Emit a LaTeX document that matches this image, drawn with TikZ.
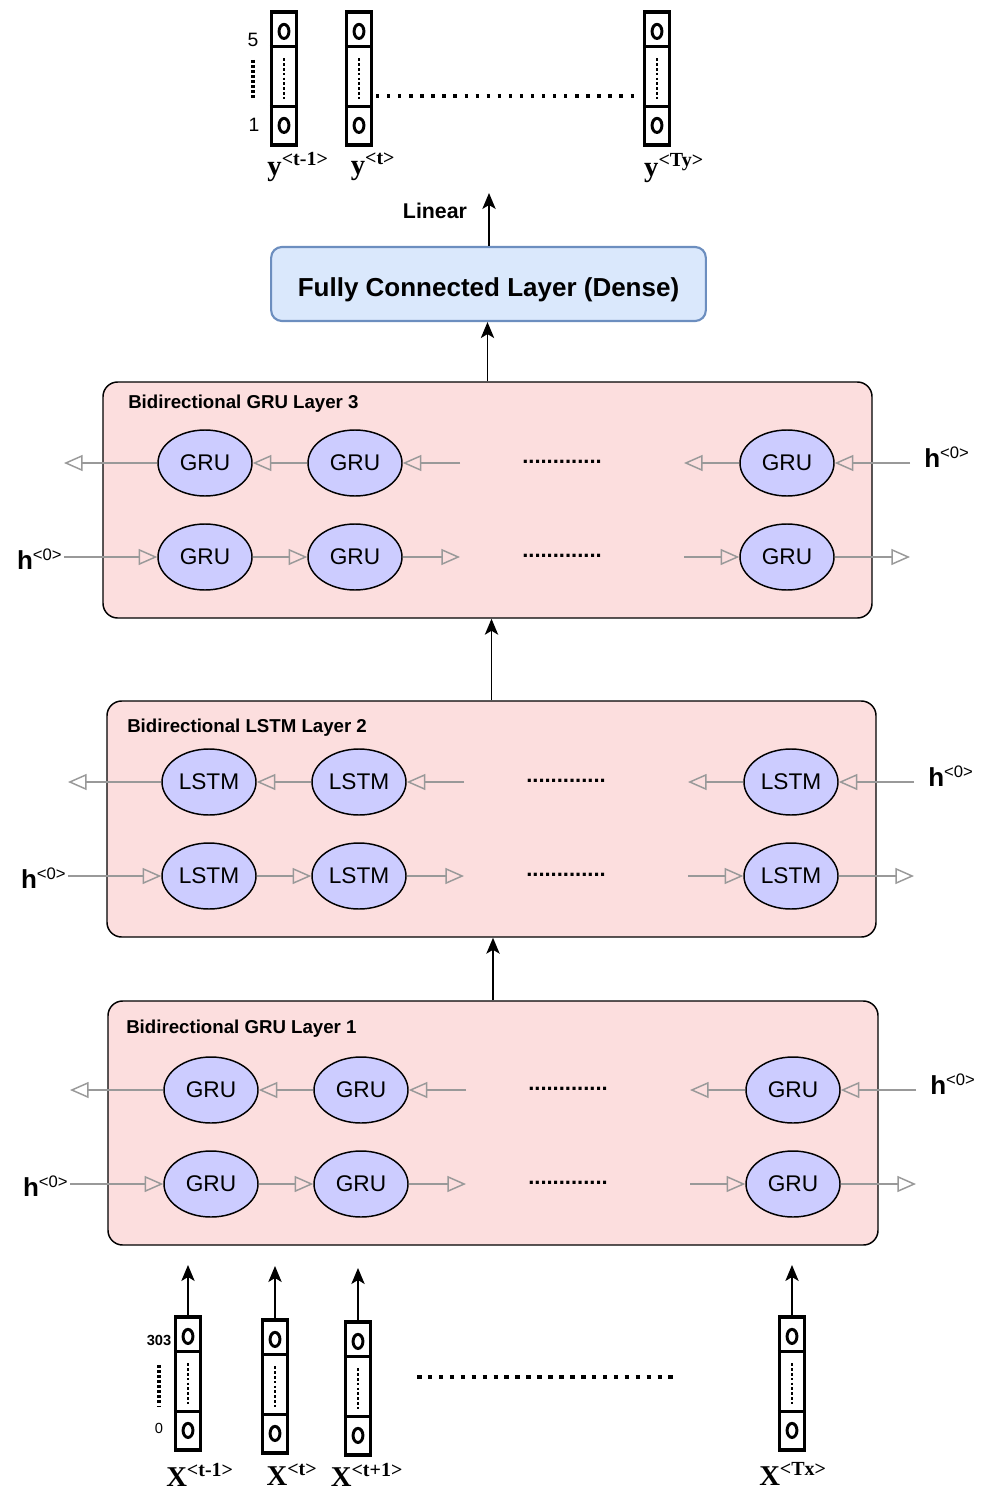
\documentclass[tikz,border=0pt]{standalone}
\usepackage{fontspec}
\setmainfont{Liberation Sans}
\newfontfamily\serifbold{Liberation Serif}[BoldFont={* Bold}]
\usetikzlibrary{shapes.geometric,arrows.meta,calc,fit}

\definecolor{layerfill}{HTML}{FCDEDE}
\definecolor{cellfill}{HTML}{CCCCFF}
\definecolor{fcfill}{HTML}{DAE8FC}
\definecolor{fcline}{HTML}{6C8EBF}
\definecolor{flow}{HTML}{999999}

\tikzset{
  cell/.style={ellipse, draw=black, line width=1.1pt, fill=cellfill,
    minimum width=70.5pt, minimum height=49.5pt, inner sep=0pt,
    font=\fontsize{17}{17}\selectfont},
  layerbox/.style={draw=black, line width=1.1pt, fill=layerfill,
    rounded corners=11pt, inner sep=0pt},
  layertitle/.style={anchor=west, inner sep=0pt, font=\bfseries\fontsize{14}{14}\selectfont},
  flowline/.style={draw=flow, line width=1.1pt, -{Triangle[open, length=14pt, width=12pt]}},
  mainarrow/.style={draw=black, line width=1.1pt, -{Stealth[length=12pt, width=10pt, inset=3pt]}},
  vbox/.style={draw=black, line width=2.4pt, minimum width=18.75pt,
    minimum height=99.75pt, inner sep=0pt},
  sepline/.style={line width=2.4pt},
  ring/.style={line width=2.2pt},
  vdots/.style={line width=2pt, dash pattern=on 1.9pt off 1.7pt},
  sidedots/.style={line width=2.8pt, dash pattern=on 1.9pt off 1.9pt},
  rowdots/.style={inner sep=0pt, font=\bfseries\fontsize{16.5}{16.5}\selectfont},
  hlabel/.style={inner sep=0pt},
  veclabel/.style={inner sep=0pt, font=\serifbold\bfseries\fontsize{21.5}{21.5}\selectfont},
}

% one-hot style vector column: name, centre x, top y
\newcommand\vecbox[3]{%
  \node[vbox] (#1) at (#2,#3+66.5) {};
  \draw[sepline] ($(#1.north west)+(0,36)$) -- ($(#1.north east)+(0,36)$);
  \draw[sepline] ($(#1.north west)+(0,96)$) -- ($(#1.north east)+(0,96)$);
  \draw[ring] ($(#1.north)+(0,21)$) ellipse [x radius=3.7pt, y radius=5.3pt];
  \draw[ring] ($(#1.north)+(0,115)$) ellipse [x radius=3.7pt, y radius=5.3pt];
  \draw[vdots] ($(#1.north)+(0,48)$) -- ($(#1.north)+(0,91)$);
}

\newcommand\hzero{{\bfseries\fontsize{19.5}{19.5}\selectfont h}\raisebox{6.5pt}{\fontsize{12.5}{12.5}\selectfont <0>}}
\newcommand\supsize{\fontsize{15}{15}\selectfont}

% bidirectional recurrent layer: prefix, first cell x, upper row y, lower row y, cell text
\newcommand\bilayer[5]{%
  \node[cell] (#1a1) at (#2,#3) {#5};
  \node[cell] (#1a2) at (#2+150,#3) {#5};
  \node[cell] (#1a3) at (#2+582,#3) {#5};
  \node[cell] (#1b1) at (#2,#4) {#5};
  \node[cell] (#1b2) at (#2+150,#4) {#5};
  \node[cell] (#1b3) at (#2+582,#4) {#5};
  \coordinate (#1aL) at (#2-141,#3);
  \coordinate (#1aM) at (#2+255,#3);
  \coordinate (#1aN) at (#2+479,#3);
  \coordinate (#1aR) at (#2+705,#3);
  \coordinate (#1bL) at (#2-141,#4);
  \coordinate (#1bM) at (#2+255,#4);
  \coordinate (#1bN) at (#2+479,#4);
  \coordinate (#1bR) at (#2+705,#4);
  \draw[flowline] (#1a1) -- (#1aL);
  \draw[flowline] (#1a2) -- (#1a1);
  \draw[flowline] (#1aM) -- (#1a2);
  \draw[flowline] (#1a3) -- (#1aN);
  \draw[flowline] (#1aR) -- (#1a3);
  \draw[flowline] (#1bL) -- (#1b1);
  \draw[flowline] (#1b1) -- (#1b2);
  \draw[flowline] (#1b2) -- (#1bM);
  \draw[flowline] (#1bN) -- (#1b3);
  \draw[flowline] (#1b3) -- (#1bR);
  \node[rowdots] (#1adots) at (#2+357,#3-1) {.............};
  \node[rowdots] (#1bdots) at (#2+357,#4-1) {.............};
  \node[hlabel, anchor=west] (#1hR) at ($(#1aR)+(14,-6)$) {\hzero};
  \node[hlabel, anchor=east] (#1hL) at ($(#1bL)+(-2,2)$) {\hzero};
}

\begin{document}
\begin{tikzpicture}[x=0.75pt, y=-0.75pt]
\useasboundingbox (0,0) rectangle (982,1494);

% ---------- output vectors ----------
\vecbox{y1}{284}{12}
\vecbox{y2}{359}{12}
\vecbox{y3}{657}{12}
\node[inner sep=0pt, font=\fontsize{14.5}{14.5}\selectfont] (ytop) at (253,40) {5};
\node[inner sep=0pt, font=\fontsize{14.5}{14.5}\selectfont] (ybot) at (254,125) {1};
\draw[sidedots] (ytop.south |- 0,60) -- (ytop.south |- 0,100);
\draw[line width=2.5pt, dash pattern=on 2.5pt off 5.8pt] (376,96) -- (634,96);
\node[veclabel] (ly1) at (298,167) {y\textsuperscript{\supsize<t-1>}};
\node[veclabel] (ly2) at (373,167) {y\textsuperscript{\supsize<t>}};
\node[veclabel] (ly3) at (674,168) {y\textsuperscript{\supsize<Ty>}};

% ---------- dense layer ----------
\node[draw=fcline, fill=fcfill, line width=1.6pt, rounded corners=8pt,
      minimum width=326pt, minimum height=55.5pt, inner sep=0pt,
      text height=18.5pt, text depth=0pt,
      font=\bfseries\fontsize{19.5}{19.5}\selectfont] (fc) at (488.5,284) {Fully Connected Layer (Dense)};
\coordinate (out) at (489,193);
\draw[mainarrow] (fc.north -| out) -- (out);
\node[inner sep=0pt, font=\bfseries\fontsize{16}{16}\selectfont] (lin) at (435,211) {Linear};

% ---------- recurrent layers ----------
\node[layerbox, fit={(103,382) (872,618)}] (L3) {};
\node[layertitle] (L3t) at (128,404) {Bidirectional GRU Layer 3};
\bilayer{L3}{205}{463}{557}{GRU}

\node[layerbox, fit={(107,701) (876,937)}] (L2) {};
\node[layertitle] (L2t) at (127,728) {Bidirectional LSTM Layer 2};
\bilayer{L2}{209}{782}{876}{LSTM}

\node[layerbox, fit={(108,1001) (878,1245)}] (L1) {};
\node[layertitle] (L1t) at (126,1029) {Bidirectional GRU Layer 1};
\bilayer{L1}{211}{1090}{1184}{GRU}

\draw[mainarrow] (L3.north) -- (L3.north |- fc.south);
\draw[mainarrow] (L2.north) -- (L2.north |- L3.south);
\draw[mainarrow] (L1.north) -- (L1.north |- L2.south);

% ---------- input vectors ----------
\vecbox{x1}{188}{1317}
\vecbox{x2}{275}{1320}
\vecbox{x3}{358}{1322}
\vecbox{x4}{792}{1317}
\foreach \v/\e in {x1/1265, x2/1266, x3/1268, x4/1265} {
  \coordinate (\v in) at (\v.north |- 0,\e);
  \draw[mainarrow] (\v.north) -- (\v in);
}
\node[inner sep=0pt, font=\bfseries\fontsize{11}{11}\selectfont] (xtop) at (159,1340) {303};
\node[inner sep=0pt, font=\fontsize{11}{11}\selectfont] (xbot) at (159,1428) {0};
\draw[sidedots] (xtop.south |- 0,1365) -- (xtop.south |- 0,1407);
\draw[line width=3.4pt, dash pattern=on 3.4pt off 4.8pt] (417,1377) -- (676,1377);
\node[veclabel] (lx1) at (200,1475) {X\textsuperscript{\supsize<t-1>}};
\node[veclabel] (lx2) at (292,1475) {X\textsuperscript{\supsize<t>}};
\node[veclabel] (lx3) at (367,1475) {X\textsuperscript{\supsize<t+1>}};
\node[veclabel] (lx4) at (793,1474) {X\textsuperscript{\supsize<Tx>}};
\end{tikzpicture}
\end{document}
